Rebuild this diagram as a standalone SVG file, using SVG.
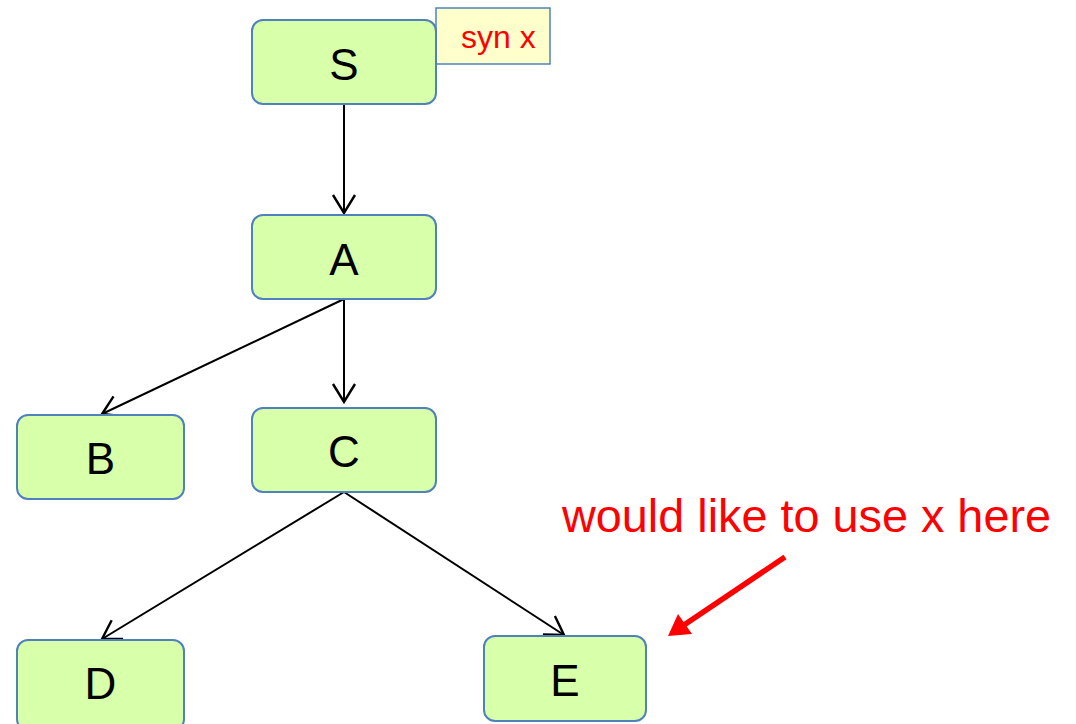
<svg xmlns="http://www.w3.org/2000/svg" width="1076" height="724" viewBox="0 0 1076 724">
<style>
.node rect{fill:#D8FFA9;stroke:#4F81BD;stroke-width:2}
.node text{font-family:"Liberation Sans",Arial,sans-serif;font-size:44px;fill:#000;text-anchor:middle}
.edge{stroke:#000;stroke-width:2;fill:none;marker-end:url(#open)}
.red{fill:#FF0000;font-family:"Liberation Sans",Arial,sans-serif}
</style>
<defs>
<marker id="open" markerUnits="userSpaceOnUse" markerWidth="40" markerHeight="40" refX="0" refY="0" orient="auto" overflow="visible">
<path d="M-18,-11 L0,0 L-18,11" fill="none" stroke="#000" stroke-width="2.4"/>
</marker>
</defs>
<rect width="1076" height="724" fill="#fff"/>
<g id="connectors">
<line class="edge" x1="344" y1="104" x2="344" y2="213"/>
<line class="edge" x1="344" y1="299" x2="102" y2="414"/>
<line class="edge" x1="344" y1="299" x2="344" y2="402"/>
<line class="edge" x1="344" y1="492" x2="102" y2="639"/>
<line class="edge" x1="344" y1="492" x2="564" y2="635"/>
<line x1="785" y1="557" x2="684" y2="625" stroke="#FF0000" stroke-width="5.5"/>
<path d="M668,636 L678,614 L692,634 Z" fill="#FF0000"/>
</g>
<g id="syn">
<rect x="436" y="8" width="114" height="56" fill="#FFFFCC" stroke="#4F81BD" stroke-width="1.5"/>
<text class="red" x="461" y="48" font-size="32">syn x</text>
</g>
<g id="S" class="node"><rect x="252" y="20" width="184" height="84" rx="11"/><text x="344" y="80">S</text></g>
<g id="A" class="node"><rect x="252" y="215" width="184" height="84" rx="11"/><text x="344" y="275">A</text></g>
<g id="B" class="node"><rect x="17" y="415" width="167" height="84" rx="11"/><text x="100.5" y="474">B</text></g>
<g id="C" class="node"><rect x="252" y="408" width="184" height="84" rx="11"/><text x="344" y="467">C</text></g>
<g id="D" class="node"><rect x="17" y="640" width="167" height="90" rx="11"/><text x="100.5" y="699">D</text></g>
<g id="E" class="node"><rect x="484" y="636" width="162" height="85" rx="11"/><text x="565" y="696">E</text></g>
<g id="note">
<text class="red" x="562" y="532" font-size="46.8">would like to use x here</text>
</g>
</svg>
